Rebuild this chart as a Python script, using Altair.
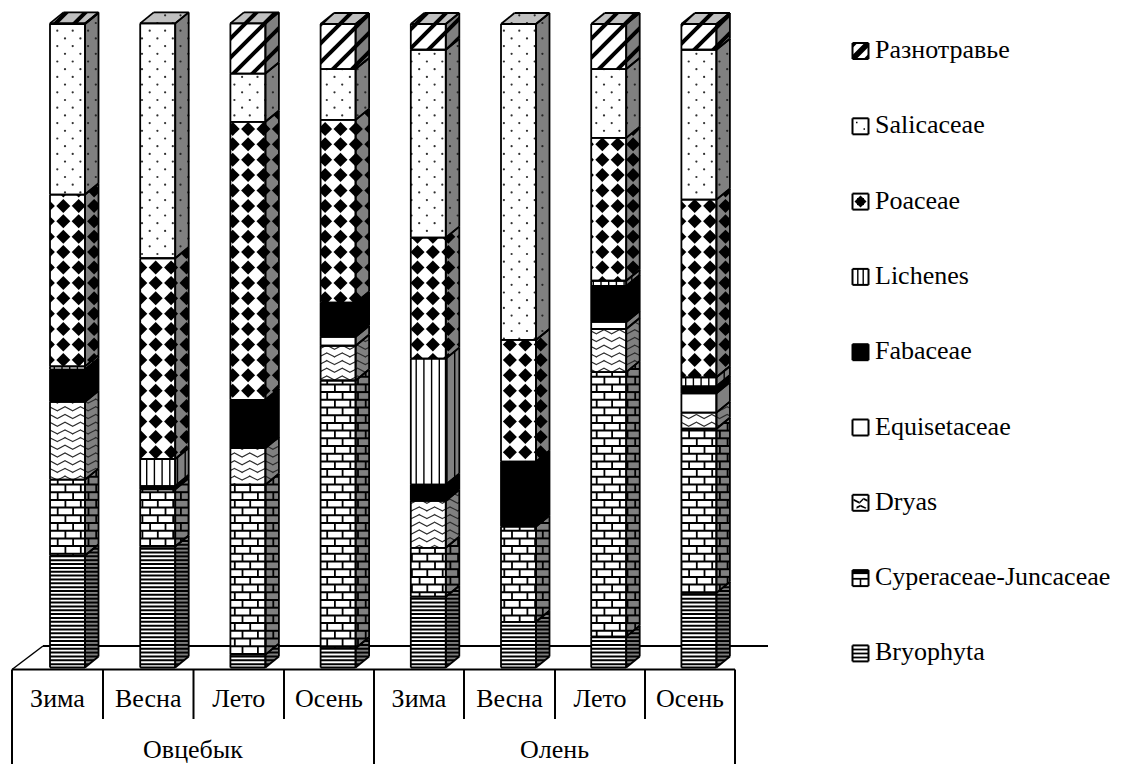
import altair as alt
import pandas as pd

alt.data_transformers.disable_max_rows()

# Diet composition, percent of the total for each season.
SEASONS = ["Зима", "Весна", "Лето", "Осень", "Зима", "Весна", "Лето", "Осень"]
ANIMALS = ["Овцебык", "Олень"]
BRYOPHYTA = [17.4, 18.8, 2.0, 3.0, 11.0, 7.1, 4.8, 11.6]
CYPERACEAE = [11.8, 8.9, 26.4, 41.6, 7.6, 14.8, 41.1, 25.5]
DRYAS = [12.1, 0.0, 5.7, 5.4, 7.3, 0.0, 6.7, 2.5]
EQUISETACEAE = [0.0, 0.0, 0.0, 1.4, 0.0, 0.0, 1.1, 3.0]
FABACEAE = [5.0, 0.5, 7.5, 5.3, 2.5, 10.1, 5.6, 1.1]
LICHENES = [0.5, 4.2, 0.0, 0.0, 19.6, 0.0, 0.8, 1.4]
POACEAE = [26.7, 31.2, 43.2, 28.4, 18.8, 18.9, 22.2, 27.6]
SALICACEAE = [26.5, 36.5, 7.5, 7.9, 29.2, 49.1, 10.7, 23.3]
RAZNOTRAVYE = [0.1, 0.0, 7.8, 7.0, 4.0, 0.0, 7.0, 4.0]

# Bottom-to-top stacking order, with the fill pattern of each group.
SERIES = [
    ("Bryophyta", BRYOPHYTA, "hlines"),
    ("Cyperaceae-Juncaceae", CYPERACEAE, "bricks"),
    ("Dryas", DRYAS, "zigzag"),
    ("Equisetaceae", EQUISETACEAE, "plain"),
    ("Fabaceae", FABACEAE, "solid"),
    ("Lichenes", LICHENES, "vlines"),
    ("Poaceae", POACEAE, "diamonds"),
    ("Salicaceae", SALICACEAE, "dots"),
    ("Разнотравье", RAZNOTRAVYE, "stripes"),
]
LEGEND_ORDER = ["Разнотравье", "Salicaceae", "Poaceae", "Lichenes", "Fabaceae",
                "Equisetaceae", "Dryas", "Cyperaceae-Juncaceae", "Bryophyta"]

# Canvas layout in pixels, and the conversion to the chart's data units.
W, H = 1127, 764
BAR_X0, BAR_STEP, BAR_W = 50.0, 90.2, 35.0
DEPTH_X, DEPTH_Y = 13.5, 11.0
BASE_Y, PCT_PX = 667.5, 6.435
TILE = 15.4

X_DOMAIN = [(0 - BAR_X0) / BAR_STEP, (W - BAR_X0) / BAR_STEP]
Y_DOMAIN = [(BASE_Y - H) / PCT_PX, BASE_Y / PCT_PX]


def ux(px):
    return round((px - BAR_X0) / BAR_STEP, 4)


def uy(py):
    return round((BASE_Y - py) / PCT_PX, 4)


def px_of_pct(pct):
    return BASE_Y - pct * PCT_PX


def clip_convex(subject, region):
    """Sutherland-Hodgman clipping of a convex polygon by a convex region."""
    area = sum(region[i][0] * region[(i + 1) % len(region)][1]
               - region[(i + 1) % len(region)][0] * region[i][1]
               for i in range(len(region)))
    sign = 1 if area > 0 else -1
    out = list(subject)
    for i in range(len(region)):
        ax, ay = region[i]
        bx, by = region[(i + 1) % len(region)]
        side = lambda p: sign * ((bx - ax) * (p[1] - ay) - (by - ay) * (p[0] - ax))
        kept = []
        for j in range(len(out)):
            p, q = out[j], out[(j + 1) % len(out)]
            sp, sq = side(p), side(q)
            if sp >= 0:
                kept.append(p)
            if (sp > 0 and sq < 0) or (sp < 0 and sq > 0):
                t = sp / (sp - sq)
                kept.append((p[0] + t * (q[0] - p[0]), p[1] + t * (q[1] - p[1])))
        out = kept
        if not out:
            return []
    return out


def inside(pt, region):
    return len(clip_convex([(pt[0] - .01, pt[1] - .01), (pt[0] + .01, pt[1] - .01),
                            (pt[0] + .01, pt[1] + .01), (pt[0] - .01, pt[1] + .01)], region)) > 0


def rect(x0, y0, x1, y1):
    return [(x0, y0), (x1, y0), (x1, y1), (x0, y1)]


def bbox(region):
    xs, ys = zip(*region)
    return min(xs), min(ys), max(xs), max(ys)


def lattice(start, step, lo, hi):
    k = int((lo - start) // step)
    out = []
    while start + k * step <= hi + step:
        out.append((k, start + k * step))
        k += 1
    return out


def pattern_shapes(kind, region):
    """Polygons (and dot centres) of one fill pattern over a region."""
    x0, y0, x1, y1 = bbox(region)
    polys, dots = [], []
    if kind == "hlines":
        for _, y in lattice(668.0, TILE / 4, y0, y1):
            polys.append((rect(x0, y - 1.0, x1, y + 1.0), "#000000"))
    elif kind == "vlines":
        for _, x in lattice(146.7, TILE / 2, x0, x1):
            polys.append((rect(x - .7, y0, x + .7, y1), "#000000"))
    elif kind == "bricks":
        for n, y in lattice(492.2, TILE / 2, y0, y1):
            polys.append((rect(x0, y - 1.0, x1, y + 1.0), "#000000"))
            shift = 57.7 if n % 2 == 0 else 57.7 + TILE / 2
            for _, x in lattice(shift, TILE, x0, x1):
                polys.append((rect(x - .9, y, x + .9, y + TILE / 2), "#000000"))
    elif kind == "zigzag":
        half = TILE / 2
        for _, y in lattice(406.7, TILE / 2, y0 - 6, y1 + 6):
            for k, x in lattice(65.0, half, x0 - half, x1 + half):
                ya, yb = (y, y + 4.2) if k % 2 == 0 else (y + 4.2, y)
                xb = x + half
                polys.append(([(x - .2, ya - .65), (xb + .2, yb - .65),
                               (xb + .2, yb + .65), (x - .2, ya + .65)], "#2a2a2a"))
    elif kind == "diamonds":
        r = 7.0
        for _, cy in lattice(144.3, TILE, y0 - r, y1 + r):
            for _, cx in lattice(602.3, TILE, x0 - r, x1 + r):
                polys.append(([(cx - r, cy), (cx, cy - r), (cx + r, cy), (cx, cy + r)], "#000000"))
    elif kind == "stripes":
        half = 2.8
        for _, c in lattice(668.0, 19.0, x0 + y0 - 4, x1 + y1 + 4):
            polys.append(([(c - half - y1, y1), (c + half - y1, y1),
                           (c + half - y0, y0), (c - half - y0, y0)], "#000000"))
    elif kind == "dots":
        for n, y in lattice(30.7, TILE / 2, y0, y1):
            shift = 57.3 if n % 2 == 0 else 57.3 + TILE / 2
            for _, x in lattice(shift, TILE, x0, x1):
                if inside((x, y), region):
                    dots.append((x, y))
    return polys, dots


base_rows, pattern_rows, dot_rows, edge_rows = [], [], [], []
poly_id = [0]


def add_poly(rows, poly, colour):
    """Store a convex polygon as one y-keyed band per vertex height."""
    poly_id[0] += 1
    ys = sorted({round(p[1], 3) for p in poly})
    if len(ys) < 2:
        return
    for y in ys:
        hits = []
        for i in range(len(poly)):
            a, b = poly[i], poly[(i + 1) % len(poly)]
            lo, hi = min(a[1], b[1]), max(a[1], b[1])
            if lo - 1e-3 <= y <= hi + 1e-3:
                if abs(b[1] - a[1]) < 1e-6:
                    hits += [a[0], b[0]]
                else:
                    hits.append(a[0] + (y - a[1]) / (b[1] - a[1]) * (b[0] - a[0]))
        rows.append({"id": poly_id[0], "y": uy(y), "x": ux(min(hits)),
                     "x2": ux(max(hits)), "fill": colour})


def add_edges(poly, width=1.8, colour="#000000"):
    for i in range(len(poly)):
        a, b = poly[i], poly[(i + 1) % len(poly)]
        edge_rows.append({"x": ux(a[0]), "y": uy(a[1]), "x2": ux(b[0]), "y2": uy(b[1]),
                          "w": width, "stroke": colour})


def paint_face(region, kind, background):
    add_poly(base_rows, region, "#000000" if kind == "solid" else background)
    polys, dots = pattern_shapes(kind, region)
    for shape, colour in polys:
        clipped = clip_convex(shape, region)
        if len(clipped) >= 3:
            add_poly(pattern_rows, clipped, colour)
    for x, y in dots:
        dot_rows.append({"x": ux(x), "y": uy(y)})


for i in range(len(SEASONS)):
    x0 = BAR_X0 + BAR_STEP * i
    x1 = x0 + BAR_W
    total = 0.0
    top_kind = None
    top_y = BASE_Y
    for name, values, kind in SERIES:
        value = values[i]
        if value <= 0:
            continue
        yb = px_of_pct(total)
        total += value
        yt = px_of_pct(total)
        front = rect(x0, yt, x1, yb)
        side = [(x1, yt), (x1 + DEPTH_X, yt - DEPTH_Y), (x1 + DEPTH_X, yb - DEPTH_Y), (x1, yb)]
        paint_face(front, kind, "#ffffff")
        paint_face(side, kind, "#808080")
        add_edges(front)
        add_edges(side)
        top_kind, top_y = kind, yt
    top = [(x0, top_y), (x1, top_y), (x1 + DEPTH_X, top_y - DEPTH_Y), (x0 + DEPTH_X, top_y - DEPTH_Y)]
    paint_face(top, top_kind, "#c0c0c0")
    add_edges(top)

# Legend swatches: a boxed miniature of each fill.
LEGEND_X, LEGEND_BASE, LEGEND_STEP, SWATCH = 875.0, 58.0, 75.3, 16.0
legend_rows = []
for r, name in enumerate(LEGEND_ORDER):
    base = LEGEND_BASE + LEGEND_STEP * r
    legend_rows.append({"x": ux(LEGEND_X), "y": uy(base), "label": name})
    sx0, sy0 = 852.5, base - SWATCH + 1
    sx1, sy1 = sx0 + SWATCH, sy0 + SWATCH
    box = rect(sx0, sy0, sx1, sy1)
    mx, my = (sx0 + sx1) / 2, (sy0 + sy1) / 2
    add_poly(base_rows, box, "#000000" if name == "Fabaceae" else "#ffffff")
    marks = []
    if name == "Разнотравье":
        marks = [[(sx0, sy1 - 4), (sx1 - 4, sy0), (sx1, sy0), (sx1, sy0 + 4), (sx0 + 4, sy1), (sx0, sy1)],
                 [(sx0, sy0), (sx0 + 5, sy0), (sx0, sy0 + 5)],
                 [(sx1, sy1), (sx1 - 5, sy1), (sx1, sy1 - 5)]]
    elif name == "Salicaceae":
        marks = [rect(sx0 + 3.5, sy0 + 3.5, sx0 + 5, sy0 + 5), rect(sx1 - 5, sy1 - 6, sx1 - 3.5, sy1 - 4.5)]
    elif name == "Poaceae":
        marks = [[(mx - 6, my), (mx, my - 6), (mx + 6, my), (mx, my + 6)],
                 rect(mx - 3.5, my - 3.5, mx + 3.5, my + 3.5)]
    elif name == "Lichenes":
        marks = [rect(sx0 + 4.6, sy0, sx0 + 6, sy1), rect(sx1 - 6, sy0, sx1 - 4.6, sy1)]
    elif name == "Dryas":
        marks = [[(sx0 + 1, sy0 + 4), (mx - 1, sy0 + 7), (mx + 3, sy0 + 3), (sx1 - 1, sy0 + 5), (sx1 - 1, sy0 + 7),
                  (mx + 3, sy0 + 5), (mx - 1, sy0 + 9), (sx0 + 1, sy0 + 6)],
                 [(sx0 + 4, sy1 - 4), (mx, sy1 - 6), (sx1 - 2, sy1 - 3), (sx1 - 3, sy1 - 2), (mx, sy1 - 4), (sx0 + 4, sy1 - 2)]]
    elif name == "Cyperaceae-Juncaceae":
        marks = [rect(sx0, my - .2, sx1, my + 1.6), rect(mx - .8, my, mx + .8, sy1),
                 rect(sx0, sy0, sx1, sy0 + 4)]
    elif name == "Bryophyta":
        marks = [rect(sx0, sy0 + 3.2, sx1, sy0 + 5), rect(sx0, sy0 + 7.2, sx1, sy0 + 9),
                 rect(sx0, sy0 + 11.2, sx1, sy0 + 13)]
    for m in marks:
        pieces = [m] if name != "Dryas" else [m[:2] + m[-2:], m[1:3] + m[-3:-1], m[2:4] + m[-4:-2]] if len(m) == 8 else [m[:2] + m[-2:], m[1:3] + m[-3:-1]]
        for piece in pieces:
            add_poly(pattern_rows, piece, "#000000")
    add_edges(box, width=2.0)

# Floor of the chart and the category table underneath it.
FLOOR_BACK_Y, TABLE_TOP, TABLE_BOTTOM = 646.0, 669.5, 764.0
TABLE_LEFT, TABLE_RIGHT, SHORT_BOTTOM = 12.0, 735.0, 719.0
CELL_EDGES = [12.0, 103.0, 193.5, 284.0, 374.0, 464.0, 555.0, 645.0, 735.0]
floor_rows = [
    {"x": ux(43.0), "y": uy(FLOOR_BACK_Y), "x2": ux(768.0), "y2": uy(FLOOR_BACK_Y), "w": 2.0, "stroke": "#000000"},
    {"x": ux(TABLE_LEFT), "y": uy(TABLE_TOP), "x2": ux(43.0), "y2": uy(FLOOR_BACK_Y), "w": 1.5, "stroke": "#000000"},
]
table_rows = [{"x": ux(TABLE_LEFT), "y": uy(TABLE_TOP), "x2": ux(TABLE_RIGHT), "y2": uy(TABLE_TOP),
               "w": 2.0, "stroke": "#000000"}]
for k, edge in enumerate(CELL_EDGES):
    bottom = TABLE_BOTTOM if k % 4 == 0 else SHORT_BOTTOM
    table_rows.append({"x": ux(edge), "y": uy(TABLE_TOP), "x2": ux(edge), "y2": uy(bottom),
                       "w": 2.0, "stroke": "#000000"})

label_rows = []
for k, season in enumerate(SEASONS):
    label_rows.append({"x": ux((CELL_EDGES[k] + CELL_EDGES[k + 1]) / 2), "y": uy(707.0), "label": season})
label_rows.append({"x": ux((CELL_EDGES[0] + CELL_EDGES[4]) / 2), "y": uy(758.5), "label": ANIMALS[0]})
label_rows.append({"x": ux((CELL_EDGES[4] + CELL_EDGES[8]) / 2), "y": uy(758.5), "label": ANIMALS[1]})

x_scale = alt.Scale(domain=X_DOMAIN, range=[0, W], nice=False, zero=False)
y_scale = alt.Scale(domain=Y_DOMAIN, range=[H, 0], nice=False, zero=False)
X = alt.X("x:Q", scale=x_scale, axis=None, stack=None)
Y = alt.Y("y:Q", scale=y_scale, axis=None, stack=None)


def area_layer(rows):
    return alt.Chart(pd.DataFrame(rows)).mark_area(orient="horizontal", interpolate="linear").encode(
        x=X, x2="x2:Q", y=Y, detail="id:N", fill=alt.Fill("fill:N", scale=None, legend=None))


def rule_layer(rows):
    return alt.Chart(pd.DataFrame(rows)).mark_rule().encode(
        x=X, x2="x2:Q", y=Y, y2="y2:Q",
        stroke=alt.Stroke("stroke:N", scale=None, legend=None),
        strokeWidth=alt.StrokeWidth("w:Q", scale=None, legend=None))


dots_layer = alt.Chart(pd.DataFrame(dot_rows)).mark_point(
    filled=True, shape="circle", size=5, color="#1a1a1a", opacity=0.9).encode(x=X, y=Y)

season_text = alt.Chart(pd.DataFrame(label_rows)).mark_text(
    font="Liberation Serif", fontSize=26, align="center", baseline="alphabetic", color="#000000"
).encode(x=X, y=Y, text="label:N")

legend_text = alt.Chart(pd.DataFrame(legend_rows)).mark_text(
    font="Liberation Serif", fontSize=26, align="left", baseline="alphabetic", color="#000000"
).encode(x=X, y=Y, text="label:N")

chart = alt.layer(
    rule_layer(floor_rows),
    area_layer(base_rows),
    area_layer(pattern_rows),
    dots_layer,
    rule_layer(edge_rows),
    rule_layer(table_rows),
    season_text,
    legend_text,
).properties(
    width=W, height=H, padding=0, autosize=alt.AutoSizeParams(type="none"), background="#ffffff"
).configure_view(stroke=None)

chart.save("out.html", embed_options={"renderer": "svg", "actions": False})
